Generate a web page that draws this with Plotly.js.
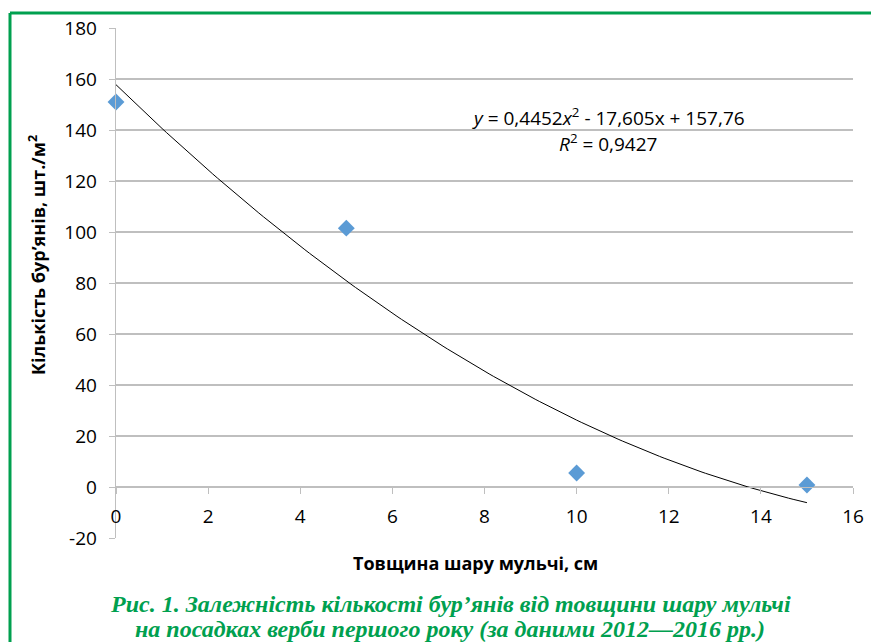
<!DOCTYPE html>
<html><head><meta charset="utf-8">
<script src="https://cdn.plot.ly/plotly-3.0.1.min.js"></script>
<style>html,body{margin:0;padding:0;background:#fff;}#chart{width:871px;height:642px;}</style>
</head><body><div id="chart"></div>
<script>
const thickness = [0, 5, 10, 15];
const weeds = [151, 101.5, 5.5, 0.8];
// trendline coefficients
const coefA = 0.4452, coefB = -17.605, coefC = 157.76;
const xTicks = [0, 2, 4, 6, 8, 10, 12, 14, 16];
const yTicks = [-20, 0, 20, 40, 60, 80, 100, 120, 140, 160, 180];
const yTickText = ['-20', '0', '20', '40', '60', '80', '100', '120', '140', '160', '180'];

const trendX = [], trendY = [];
for (let i = 0; i <= 150; i++) { const x = i * 0.1; trendX.push(x); trendY.push(coefA*x*x + coefB*x + coefC); }

const L=116, R=853, T=28, B=538;
const px = v => (v - L) / (R - L);
const py = v => (B - v) / (B - T);
const green = '#00a04f';
const sans = "'Open Sans', sans-serif";
const serif = "'Liberation Serif', 'Times New Roman', serif";

const data = [
  {x: trendX, y: trendY, type:'scatter', mode:'lines', line:{color:'#000', width:1}, hoverinfo:'skip', cliponaxis:false},
  {x: thickness, y: weeds, type:'scatter', mode:'markers', marker:{symbol:'diamond', color:'#5b9bd5', size:13}, cliponaxis:false}
];
const tickFont = {family:sans, size:19, color:'#000'};
function ann(x, y, text, font, extra) {
  return Object.assign({xref:'paper', yref:'paper', x:px(x), y:py(y), text:text, showarrow:false,
    xanchor:'center', yanchor:'middle', font:font}, extra || {});
}
const layout = {
  width:871, height:642, showlegend:false,
  paper_bgcolor:'#fff', plot_bgcolor:'#fff',
  margin:{l:L, r:871-R, t:T, b:642-B},
  xaxis:{range:[0,16], tickvals:xTicks, showgrid:false, zeroline:false, showline:true, linecolor:'#bfbfbf', linewidth:1.3,
    ticks:'outside', ticklen:6, tickcolor:'#bfbfbf', tickfont:tickFont, anchor:'free', position:0.1, ticklabelstandoff:6},
  yaxis:{range:[-20,180], tickvals:yTicks, ticktext:yTickText, showgrid:true, gridcolor:'#bfbfbf', gridwidth:1.3, zeroline:false, showline:true,
    linecolor:'#bfbfbf', linewidth:1.3, ticks:'outside', ticklen:6, tickcolor:'#bfbfbf', tickfont:tickFont, ticklabelstandoff:8},
  shapes:[
    {type:'line', xref:'paper', yref:'paper', x0:px(10), x1:px(900), y0:py(13), y1:py(13), line:{color:green, width:3}},
    {type:'line', xref:'paper', yref:'paper', x0:px(10), x1:px(10), y0:py(13), y1:py(700), line:{color:green, width:3}}
  ],
  annotations:[
    ann(475, 563, '<b>Товщина шару мульчі, см</b>', {family:sans, size:18, color:'#000'}),
    ann(37, 255, '<b>Кількість бур’янів, шт./м<sup>2</sup></b>', {family:sans, size:18, color:'#000'}, {textangle:-90}),
    ann(608, 117, '<i>y</i> = 0,4452<i>x</i><sup>2</sup> - 17,605x + 157,76', {family:sans, size:19, color:'#000'}),
    ann(608, 143, '<i>R</i><sup>2</sup> = 0,9427', {family:sans, size:19, color:'#000'}),
    ann(450, 604, '<b><i>Рис. 1. Залежність кількості бур’янів від товщини шару мульчі</i></b>', {family:serif, size:24, color:green}),
    ann(450, 629, '<b><i>на посадках верби першого року (за даними 2012—2016 рр.)</i></b>', {family:serif, size:24, color:green})
  ]
};
Plotly.newPlot('chart', data, layout, {displayModeBar:false, staticPlot:true});
</script></body></html>
